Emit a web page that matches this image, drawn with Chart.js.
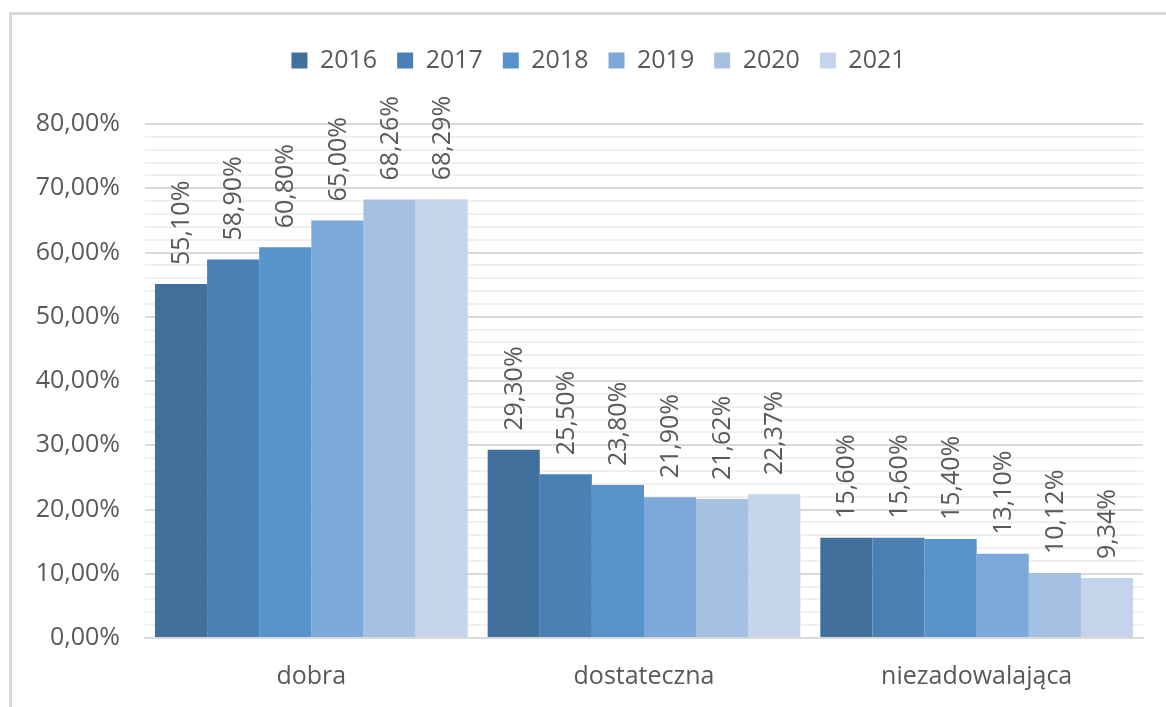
<!DOCTYPE html>
<html>
<head>
<meta charset="utf-8">
<script src="https://cdn.jsdelivr.net/npm/chart.js@4"></script>
<style>
    html, body { margin: 0; padding: 0; background: #fff; overflow: hidden; }
    .frame {
        position: absolute; left: 9px; top: 12px;
        width: 1200px; height: 800px;
        border-left: 3px solid #d9d9d9; border-top: 3px solid #d9d9d9;
    }
    .wrap { position: absolute; left: 0; top: 0; width: 1166px; height: 707px; }
</style>
</head>
<body>
<div class="frame"></div>
<div class="wrap"><canvas id="myChart" width="1166" height="707"></canvas></div>
<script>
const categories = ['dobra', 'dostateczna', 'niezadowalająca'];
const years = ['2016', '2017', '2018', '2019', '2020', '2021'];
const values2016 = [55.10, 29.30, 15.60];
const values2017 = [58.90, 25.50, 15.60];
const values2018 = [60.80, 23.80, 15.40];
const values2019 = [65.00, 21.90, 13.10];
const values2020 = [68.26, 21.62, 10.12];
const values2021 = [68.29, 22.37, 9.34];
const colors = ['#41709c', '#4a80b4', '#5894cc', '#7ca9da', '#a4c0e3', '#c4d4ea'];

const fontFamily = '"Open Sans", sans-serif';
const textColor = '#595959';

const fmt = (v) => v.toFixed(2).replace('.', ',') + '%';

const allValues = [values2016, values2017, values2018, values2019, values2020, values2021];

// data labels, rotated, above each bar
const barLabels = {
    id: 'barLabels',
    afterDatasetsDraw(chart) {
        const ctx = chart.ctx;
        ctx.save();
        ctx.font = '25px ' + fontFamily;
        ctx.fillStyle = textColor;
        ctx.textAlign = 'left';
        ctx.textBaseline = 'middle';
        chart.data.datasets.forEach((ds, i) => {
            chart.getDatasetMeta(i).data.forEach((bar, j) => {
                ctx.save();
                ctx.translate(bar.x + 1, bar.y - 19);
                ctx.rotate(-Math.PI / 2);
                ctx.fillText(fmt(ds.data[j]), 0, 0);
                ctx.restore();
            });
        });
        ctx.restore();
    }
};

// fixed legend height so the plot starts lower, and centre it over the plot
const legendSpace = {
    id: 'legendSpace',
    beforeInit(chart) {
        const origFit = chart.legend.fit;
        chart.legend.fit = function () {
            origFit.bind(chart.legend)();
            this.height = 96;
        };
    },
    afterLayout(chart) {
        chart.legend.left += 27;
        chart.legend.right += 27;
    }
};

const data = {
    labels: categories,
    datasets: years.map((y, i) => ({
        label: y,
        data: allValues[i],
        backgroundColor: colors[i],
        borderWidth: 0,
        barPercentage: 1.0,
        categoryPercentage: 0.94
    }))
};

const config = {
    type: 'bar',
    data,
    options: {
        responsive: false,
        animation: false,
        layout: {
            padding: { left: 0, right: 23, top: 28, bottom: 0 }
        },
        scales: {
            x: {
                grid: { display: false, drawTicks: false },
                border: { color: '#d9d9d9', width: 2 },
                ticks: {
                    color: textColor,
                    font: { family: fontFamily, size: 25 },
                    padding: 24
                },
                afterFit(scale) { scale.height = 69; }
            },
            y: {
                min: 0,
                max: 80,
                border: { display: false },
                grid: {
                    drawTicks: false,
                    lineWidth: 2,
                    color: (c) => (c.tick && c.tick.value % 10 === 0) ? '#d9d9d9' : '#f0f0f0'
                },
                ticks: {
                    stepSize: 2,
                    autoSkip: false,
                    color: textColor,
                    font: { family: fontFamily, size: 25 },
                    padding: 25,
                    callback: (v) => (v % 10 === 0) ? fmt(v) : ''
                },
                afterFit(scale) { scale.width = 145; }
            }
        },
        plugins: {
            legend: {
                position: 'top',
                labels: {
                    boxWidth: 16,
                    boxHeight: 16,
                    padding: 20,
                    color: textColor,
                    font: { family: fontFamily, size: 25 }
                }
            },
            tooltip: { enabled: false }
        }
    },
    plugins: [barLabels, legendSpace]
};

const myChart = new Chart(document.getElementById('myChart'), config);
</script>
</body>
</html>
